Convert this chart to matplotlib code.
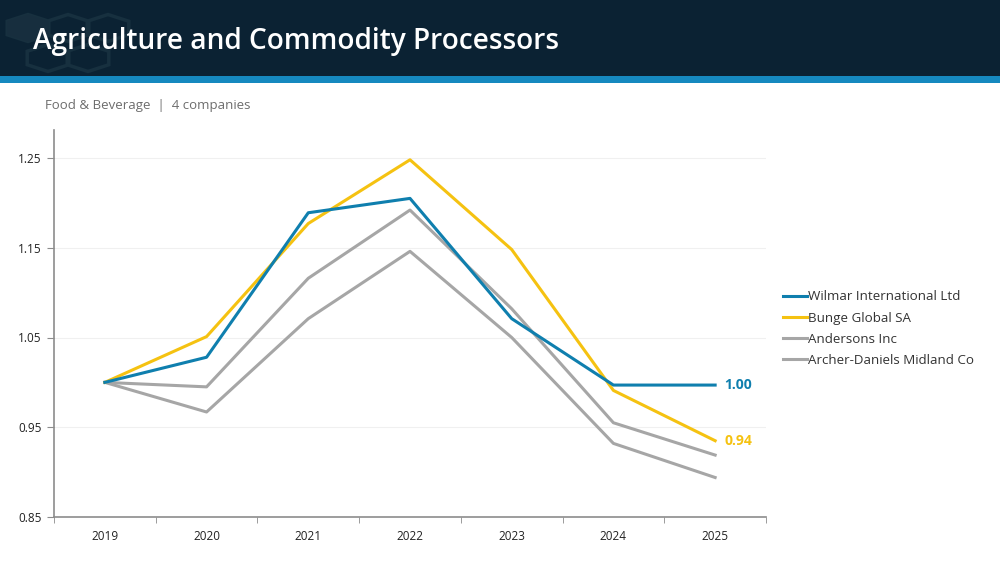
import numpy as np
import matplotlib.pyplot as plt
from matplotlib.patches import Rectangle, RegularPolygon

anos = ['2019', '2020', '2021', '2022', '2023', '2024', '2025']

wilmar = [1.00, 1.028, 1.189, 1.205, 1.071, 0.997, 0.997]
bunge = [1.00, 1.051, 1.177, 1.248, 1.148, 0.991, 0.935]
andersons = [1.00, 0.995, 1.116, 1.192, 1.082, 0.955, 0.919]
archer = [1.00, 0.967, 1.071, 1.146, 1.050, 0.932, 0.894]

nomes = ['Wilmar International Ltd', 'Bunge Global SA', 'Andersons Inc', 'Archer-Daniels Midland Co']
rotulos_fim = ['1.00', '0.94']

azul = '#0f7fae'
amarelo = '#f5c211'
cinza = '#a6a6a6'

plt.rcParams['font.family'] = ['Open Sans', 'DejaVu Sans']

fig = plt.figure(figsize=(10, 5.62), dpi=100)

# cabecalho escuro com faixa azul
fig.patches.append(Rectangle((0, 1 - 76/562), 1, 76/562, transform=fig.transFigure,
                             facecolor='#0b2233', edgecolor='none', zorder=0))
fig.patches.append(Rectangle((0, 1 - 83/562), 1, 7/562, transform=fig.transFigure,
                             facecolor='#1689bf', edgecolor='none', zorder=0))
# hexagonos decorativos (bem apagados)
for (hx, hy) in [(28, 28), (68, 28), (108, 28), (48, 58), (88, 58)]:
    fig.patches.append(RegularPolygon((hx/1000, 1 - hy/562), 6, radius=0.024,
                                      transform=fig.transFigure, facecolor='none',
                                      edgecolor='#17303f', linewidth=2.5, zorder=0))
fig.patches.append(RegularPolygon((28/1000, 1 - 28/562), 6, radius=0.024,
                                  transform=fig.transFigure, facecolor='#172e3e',
                                  edgecolor='none', zorder=0))

fig.text(0.033, 1 - 42/562, 'Agriculture and Commodity Processors', color='white',
         fontsize=20.2, fontweight='semibold', va='center', ha='left')
fig.text(0.045, 1 - 106/562, 'Food & Beverage  |  4 companies', color='#6d6d6d',
         fontsize=9.5, va='center', ha='left')

ax = fig.add_axes([0.054, 1 - 517/562, 0.712, (517 - 130)/562])
x = np.arange(len(anos))

ax.plot(x, andersons, color=cinza, lw=2.2, label=nomes[2], zorder=2)
ax.plot(x, archer, color=cinza, lw=2.2, label=nomes[3], zorder=2)
ax.plot(x, bunge, color=amarelo, lw=2.2, label=nomes[1], zorder=3)
ax.plot(x, wilmar, color=azul, lw=2.2, label=nomes[0], zorder=4)

ax.text(x[-1] + 0.09, wilmar[-1], rotulos_fim[0], color=azul, fontsize=10,
        fontweight='bold', va='center', ha='left')
ax.text(x[-1] + 0.09, bunge[-1], rotulos_fim[1], color=amarelo, fontsize=10,
        fontweight='bold', va='center', ha='left')

ax.set_xlim(-0.5, 6.5)
ax.set_ylim(0.85, 1.25 + 28/897.5)
ax.set_yticks([0.85, 0.95, 1.05, 1.15, 1.25])
ax.set_yticklabels(['0.85', '0.95', '1.05', '1.15', '1.25'])
ax.set_xticks(x)
ax.set_xticklabels(anos)
ax.set_xticks(np.arange(-0.5, 7, 1), minor=True)
ax.tick_params(axis='x', which='major', length=0, pad=9, labelsize=8.5, labelcolor='#222222')
ax.tick_params(axis='x', which='minor', length=4, color='#8c8c8c', direction='out')
ax.tick_params(axis='y', length=5, color='#8c8c8c', labelsize=8.5, labelcolor='#222222', pad=4)
ax.grid(axis='y', color='#f0f0f0', lw=0.8)
ax.set_axisbelow(True)
for s in ['top', 'right']:
    ax.spines[s].set_visible(False)
for s in ['left', 'bottom']:
    ax.spines[s].set_color('#8c8c8c')
    ax.spines[s].set_linewidth(1.2)

h, l = ax.get_legend_handles_labels()
ordem = [3, 2, 0, 1]
leg = fig.legend([h[i] for i in ordem], [l[i] for i in ordem], loc='upper left',
                 bbox_to_anchor=(0.778, 1 - 285/562), frameon=False, fontsize=9.6,
                 handlelength=1.8, handletextpad=0.05, labelspacing=0.62, borderaxespad=0)
for t in leg.get_texts():
    t.set_color('#333333')

fig.savefig('out.png', dpi=100)
